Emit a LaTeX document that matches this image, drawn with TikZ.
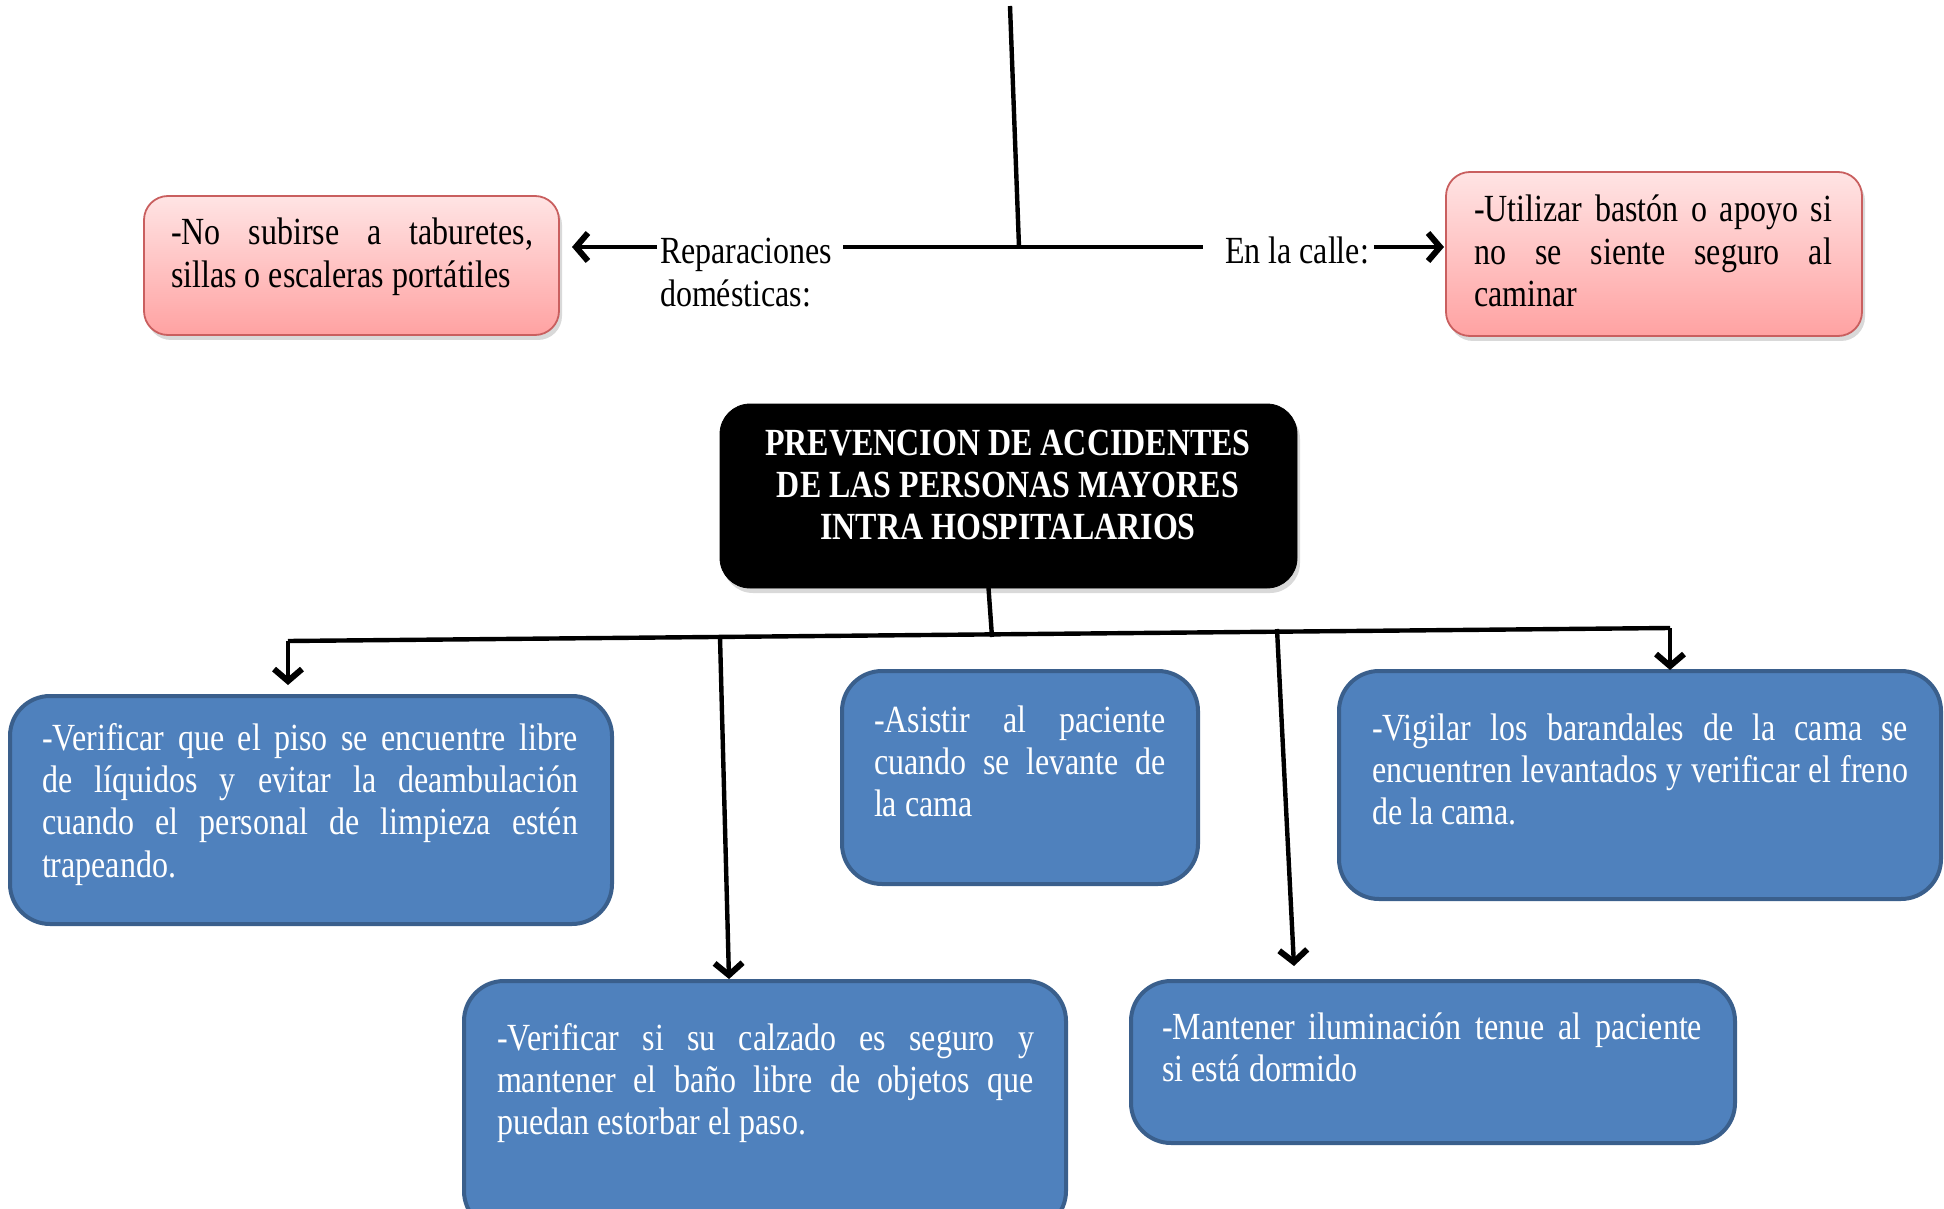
\documentclass[tikz,border=0pt]{standalone}
\usepackage{fontspec}
\usepackage{graphicx}
\setmainfont{Liberation Serif}
\usetikzlibrary{arrows.meta,shadows,calc}
\definecolor{pinkTop}{HTML}{FFE4E4}
\definecolor{pinkBot}{HTML}{FFA2A2}
\definecolor{pinkEdge}{HTML}{C95F5F}
\definecolor{blueFill}{HTML}{4F81BD}
\definecolor{blueEdge}{HTML}{3A5F8C}
% justified block, vertically stretched like the reference
\newcommand\btext[2]{\scalebox{1}[1.2]{\parbox[t]{#1}{\fontsize{16pt}{17.67pt}\selectfont
  \tolerance=10000 \hyphenpenalty=10000 \parindent=0pt #2}}}
\newcommand\ltext[2]{\scalebox{1}[1.2]{\parbox[t]{#1}{\fontsize{16pt}{17.67pt}\selectfont
  \raggedright #2}}}
\begin{document}
\begin{tikzpicture}[x=0.5pt,y=-0.5pt,
  every node/.style={inner sep=0pt, outer sep=0pt},
  pinkbox/.style={rectangle, rounded corners=12pt, draw=pinkEdge, line width=0.9pt,
    top color=pinkTop, bottom color=pinkBot,
    drop shadow={opacity=0.3, shadow xshift=1.5pt, shadow yshift=-2.5pt, rounded corners=12pt},
    anchor=north west},
  bluebox/.style={rectangle, rounded corners=20pt, draw=blueEdge, line width=2pt,
    fill=blueFill, anchor=north west},
  titlebox/.style={rectangle, rounded corners=15pt, draw=black, fill=black,
    drop shadow={opacity=0.3, shadow xshift=1.5pt, shadow yshift=-2.5pt, rounded corners=15pt},
    anchor=north west},
  txt/.style={anchor=base west},
  wtxt/.style={txt, text=white},
  conn/.style={line width=2.2pt},
  arr/.style={conn, -{Straight Barb[length=6pt,width=14pt,line width=3pt]}}
]
\path[use as bounding box, clip] (0,0) rectangle (1944,1209);

% boxes
\node[pinkbox, minimum width=207.5pt, minimum height=69.5pt] (pinkL) at (144,196) {};
\node[pinkbox, minimum width=208pt, minimum height=82pt] (pinkR) at (1446,172) {};
\node[titlebox, minimum width=288.5pt, minimum height=92pt] (title) at (720,404) {};
\node[bluebox, minimum width=301pt, minimum height=114pt] (piso) at (10,696) {};
\node[bluebox, minimum width=178pt, minimum height=106.5pt] (asistir) at (842,671) {};
\node[bluebox, minimum width=301pt, minimum height=114pt] (vigilar) at (1339,671) {};
\node[bluebox, minimum width=301pt, minimum height=125pt] (calzado) at (464,981) {};
\node[bluebox, minimum width=302pt, minimum height=81pt] (mantener) at (1131,981) {};

% texts
\node[txt] (tL) at (171,245)
  {\btext{181pt}{-No subirse a taburetes,\linebreak sillas o escaleras portátiles}};
\node[txt] (tR) at (1474,222)
  {\btext{179pt}{-Utilizar bastón o apoyo si\linebreak no se siente seguro al\linebreak caminar}};
\node[wtxt, anchor=base] (tT) at (1008,455)
  {\scalebox{1}[1.2]{\parbox[t]{288pt}{\centering\bfseries\fontsize{16pt}{17.7pt}\selectfont
   PREVENCION DE ACCIDENTES\\DE LAS PERSONAS MAYORES\\INTRA HOSPITALARIOS}}};
\node[wtxt] (tP) at (42,750)
  {\btext{268pt}{-Verificar que el piso se encuentre libre\linebreak de líquidos y evitar la deambulación\linebreak cuando el personal de limpieza estén\linebreak trapeando.}};
\node[wtxt] (tA) at (874,732)
  {\btext{146pt}{-Asistir al paciente\linebreak cuando se levante de\linebreak la cama}};
\node[wtxt] (tV) at (1372,740)
  {\btext{268pt}{-Vigilar los barandales de la cama se\linebreak encuentren levantados y verificar el freno\linebreak de la cama.}};
\node[wtxt] (tC) at (497,1050)
  {\btext{268.5pt}{-Verificar si su calzado es seguro y\linebreak mantener el baño libre de objetos que\linebreak puedan estorbar el paso.}};
\node[wtxt] (tM) at (1162,1039)
  {\btext{270pt}{-Mantener iluminación tenue al paciente\linebreak si está dormido}};

% labels
\node[txt] (rep) at (660,264) {\ltext{90pt}{Reparaciones\\domésticas:}};
\node[txt] (calle) at (1225,264) {\scalebox{1}[1.2]{\fontsize{16pt}{17.67pt}\selectfont En la calle:}};

% top connectors
\coordinate (top) at (1010,6);
\coordinate (tj) at (1019,247);
\coordinate (hl) at (843,247);
\coordinate (hr) at (1203,247);
\draw[conn] (top) -- (tj);
\draw[conn] (hl) -- (hr);
\draw[arr] ([xshift=-1.5pt]rep.west |- tj) -- ([xshift=6.5pt]pinkL.east |- tj);
\draw[arr] ([xshift=2.5pt]calle.east |- tj) -- ([xshift=-1pt]pinkR.west |- tj);

% bottom connectors
\coordinate (tb) at (992,637);
\coordinate (bl) at (288,641);
\coordinate (br) at (1670,628);
\coordinate (j2) at (720,637);
\coordinate (j3) at (1277,629);
\draw[conn] ([xshift=-10pt]title.south) -- (tb);
\draw[conn] (bl) -- (br);
\draw[arr] (bl) -- ([yshift=5.5pt]piso.north -| bl);
\draw[arr] (j2) -- ([xshift=-18pt,yshift=1pt]calzado.north);
\draw[arr] (j3) -- ([xshift=-69.5pt,yshift=7.5pt]mantener.north);
\draw[arr] (br) -- ([yshift=0.5pt]vigilar.north -| br);
\end{tikzpicture}
\end{document}
